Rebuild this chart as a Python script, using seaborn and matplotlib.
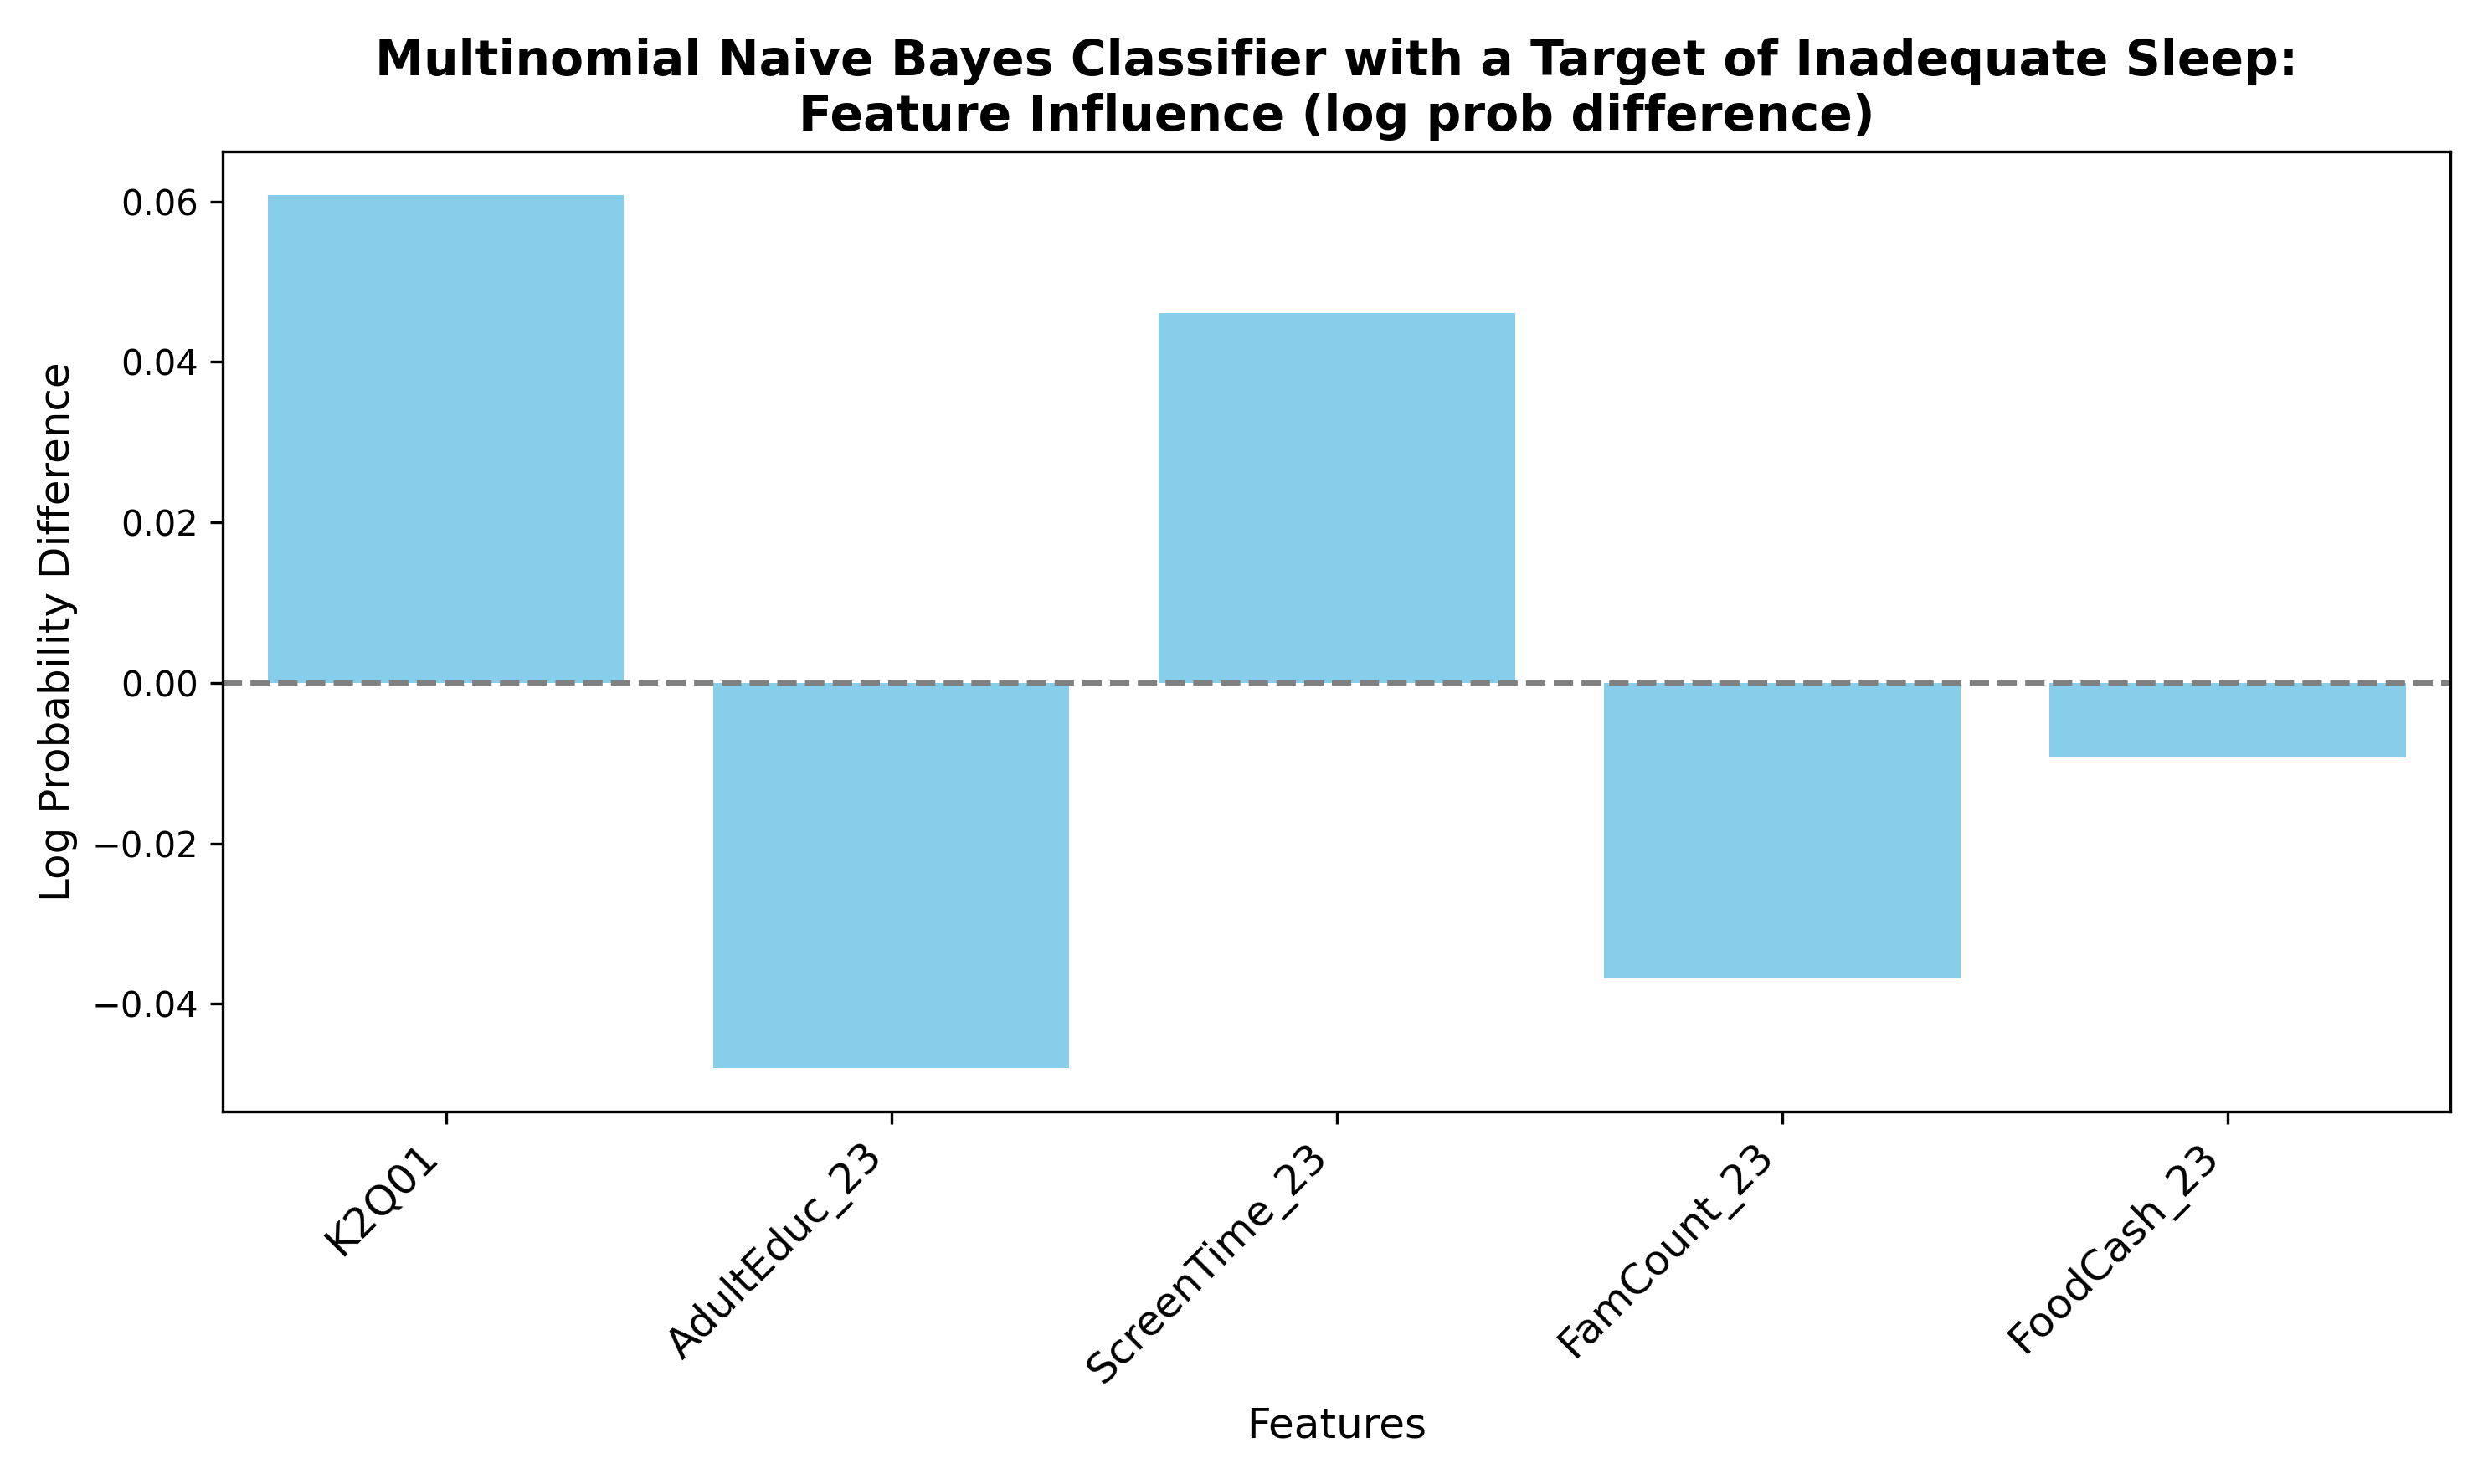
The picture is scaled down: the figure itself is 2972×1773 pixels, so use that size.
import numpy as np
import pandas as pd
import seaborn as sns
from matplotlib import pyplot as plt

features = ['K2Q01', 'AdultEduc_23', 'ScreenTime_23', 'FamCount_23', 'FoodCash_23']
log_diff = [0.0608, -0.0480, 0.0461, -0.0368, -0.0093]

df = pd.DataFrame({'Feature': features, 'LogDiff': log_diff})

fig, ax = plt.subplots(figsize=(2972/300, 1773/300), dpi=300)
sns.barplot(data=df, x='Feature', y='LogDiff', color='skyblue', saturation=1, width=0.8, ax=ax)
ax.axhline(0, color='gray', linestyle='--', linewidth=1.5)
ax.set_title('Multinomial Naive Bayes Classifier with a Target of Inadequate Sleep:\nFeature Influence (log prob difference)',
             fontsize=14, fontweight='bold')
ax.set_xlabel('Features', fontsize=12)
ax.set_ylabel('Log Probability Difference', fontsize=12)
plt.xticks(rotation=45, ha='right', fontsize=12)
plt.tight_layout()
plt.savefig('out.png', dpi=300)
